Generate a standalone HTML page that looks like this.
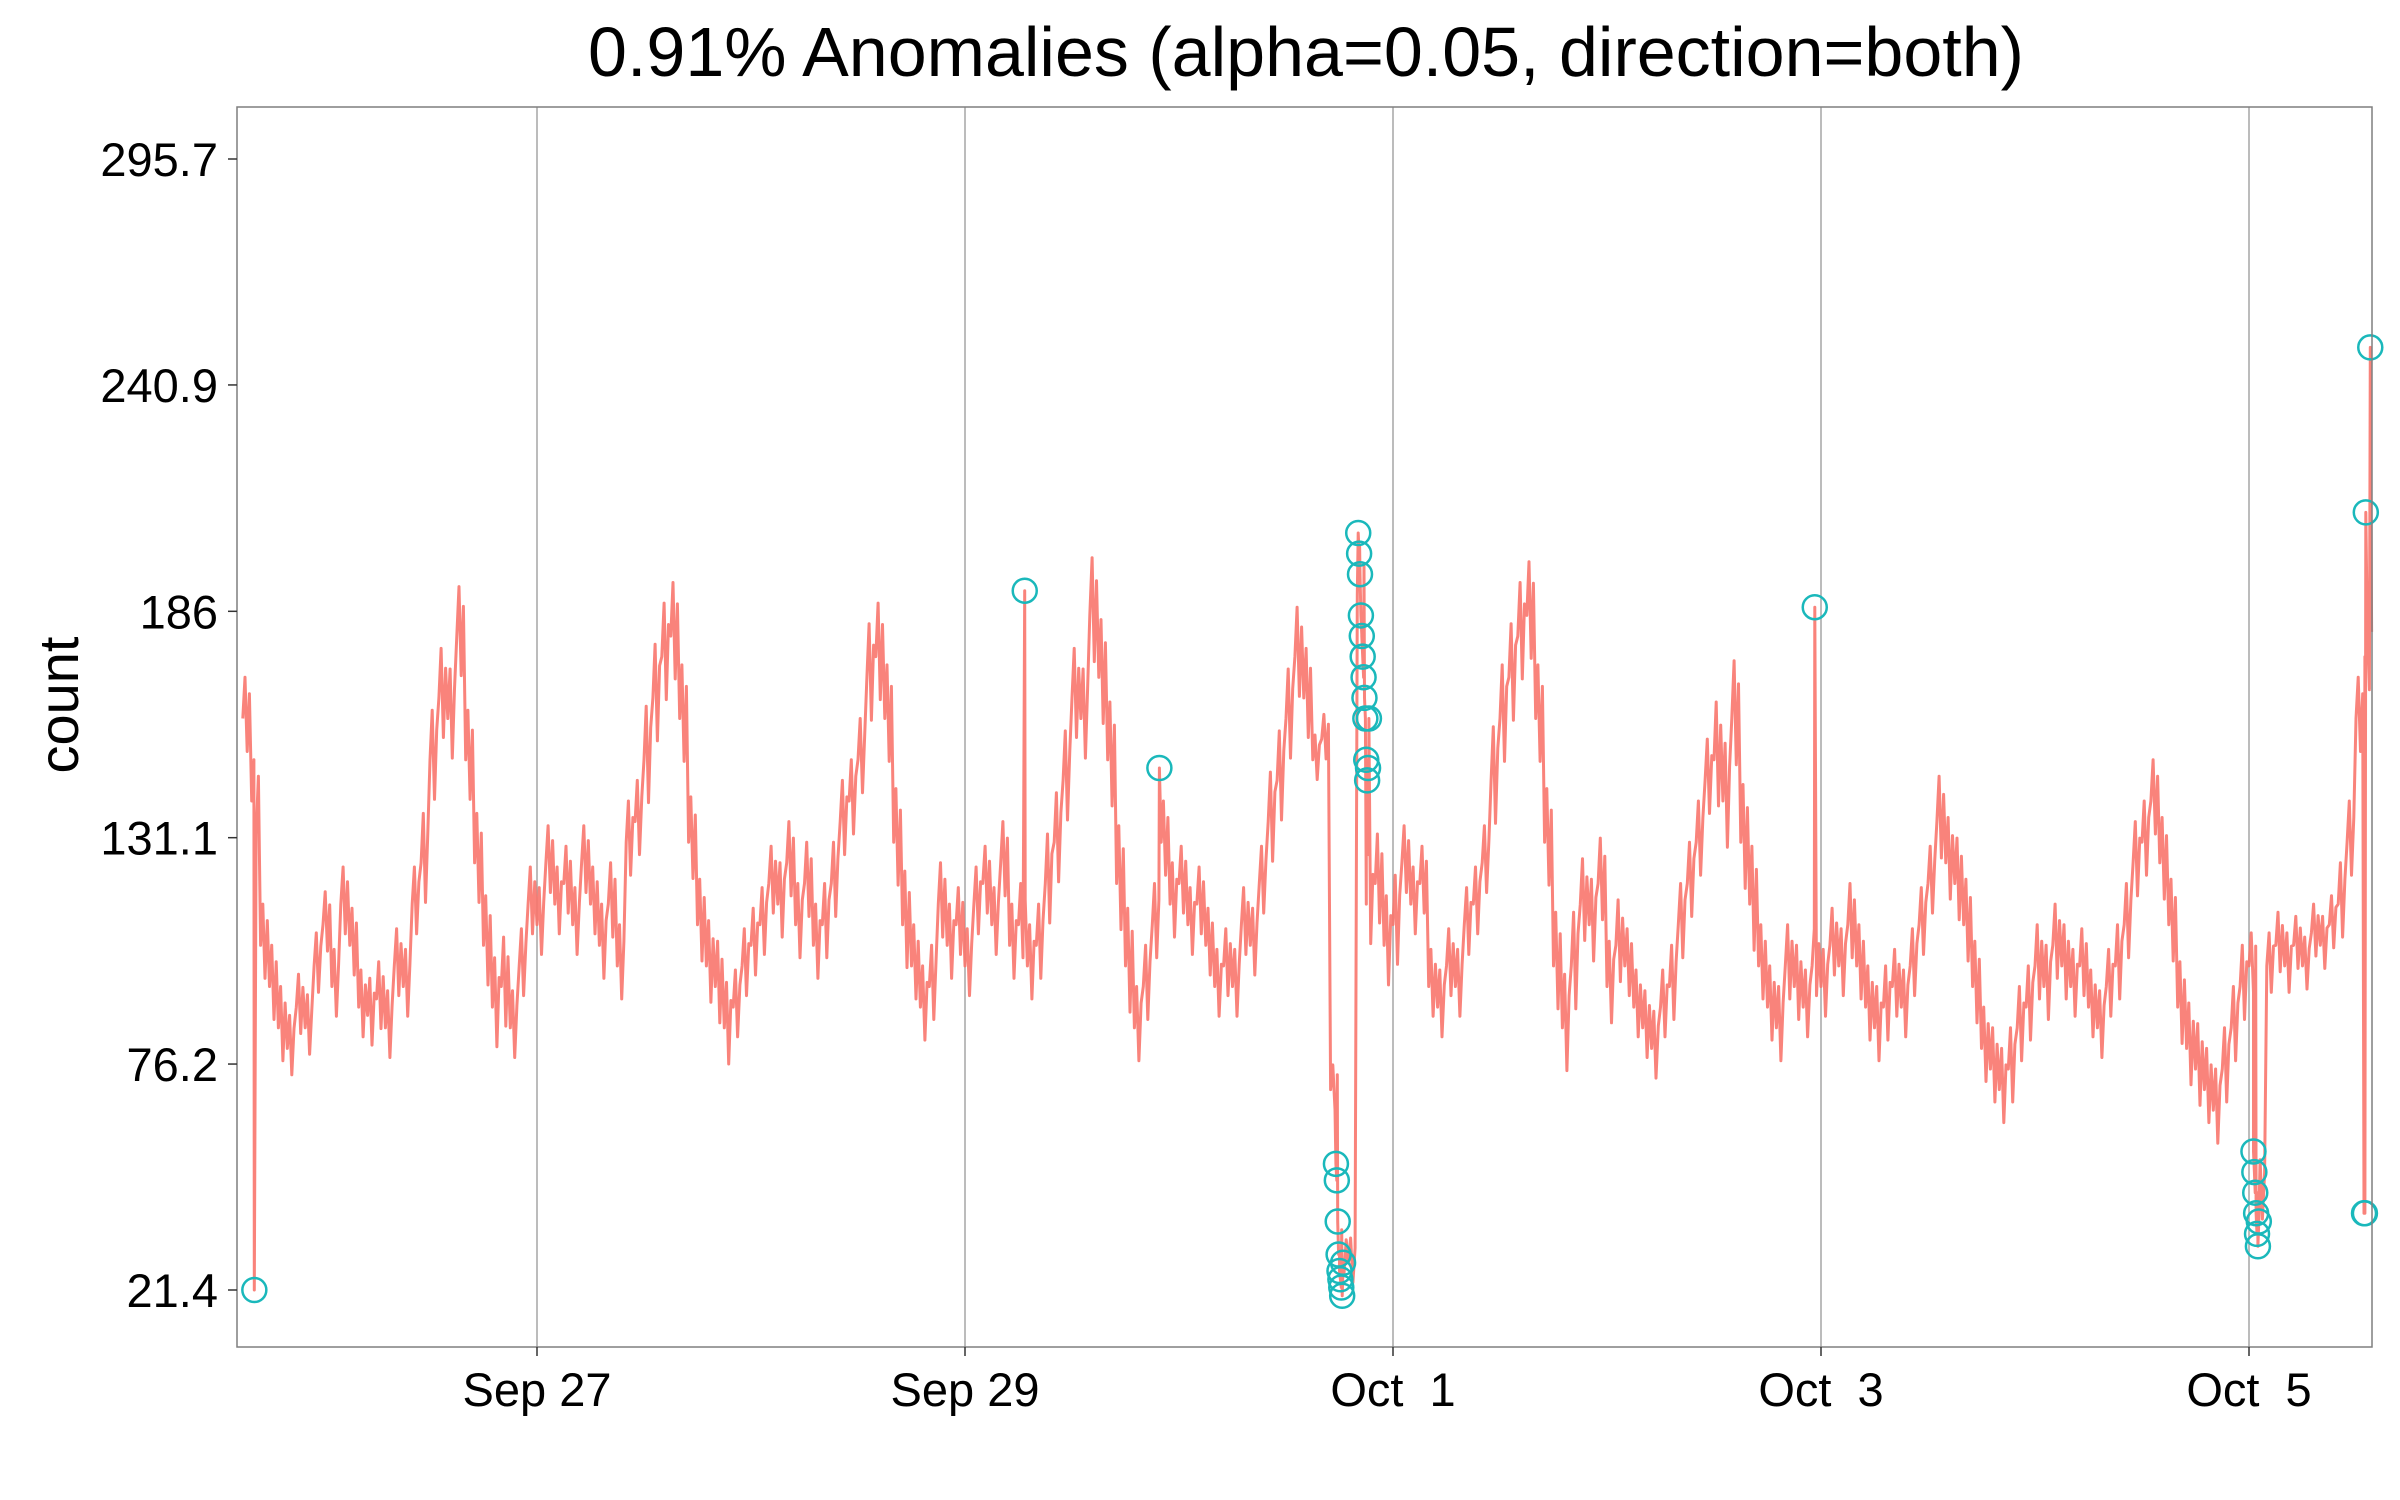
<!DOCTYPE html>
<html><head><meta charset="utf-8">
<style>
html,body{margin:0;padding:0;background:#fff;}
svg{display:block;font-family:"Liberation Sans",Arial,sans-serif;}
</style></head>
<body>
<svg id="chart" width="2400" height="1500" viewBox="0 0 2400 1500" xmlns="http://www.w3.org/2000/svg">
<rect width="2400" height="1500" fill="#fff"/>
<text x="1306" y="76" font-size="70" text-anchor="middle" fill="#000">0.91% Anomalies (alpha=0.05, direction=both)</text>
<text transform="translate(78,705) rotate(-90)" font-size="56" text-anchor="middle" fill="#000">count</text>
<g id="grid"></g>
<g id="series"></g>
<g id="anoms"></g>
<rect x="237" y="107" width="2135" height="1240" fill="none" stroke="#7f7f7f" stroke-width="1.5"/>
<g id="axes"></g>
</svg>
<script>
// hourly values starting at hour 15 (hours since Sep 25 00:00)
const startHour = 15;
const values = [
160,140,105,95,85, 80,90,85,100,110, 95,115,105,90,88, 92,85,100,95,115,
125,150,165,160,180, 150,125,105,90,95, 85,100,115,110,125, 115,120,110,125,115,
105,115,100,130,135, 150,165,175,180,160, 130,110,100,95,85, 90,100,105,110,120,
115,125,110,120,105, 110,120,135,140,150, 170,175,160,130,110, 100,90,95,115,105,
110,100,115,120,110, 125,105,110,100,105, 120,130,145,165,160, 185,170,150,120,100,
85,95,110,130,115, 120,110,115,105,95, 100,95,110,105,120, 135,145,160,175,165,
150,155,70,30,28, 190,115,120,105,110, 125,115,120,95,90, 100,95,110,115,125,
145,160,170,180,185, 160,130,100,85,100, 115,110,120,95,105, 100,90,85,80,90,
95,110,120,130,145, 150,140,160,130,115, 100,90,85,100,95, 90,100,95,105,100,
110,100,90,85,90, 95,90,100,110,120, 135,125,120,110,95, 80,75,70,75,85,
90,100,95,105,100, 95,100,90,85,95, 100,110,125,130,140, 125,110,90,80,75,
70,65,75,85,95, 100,45,100,105,100, 105,100,108,105,110, 115,130,160,175
];
// within-hour noise half-range, one per 5-hour group
const spread = [10,8,9,9,12,12,9,9,10,13,11,9,10,10,13,10,9,10,12,14,10,9,9,12,6,12,9,9,13,13,11,9,10,14,10,9,10,9,11,10,10,9,10,11,10,8,7,10];
const anomHours = [16.3,102.7,117.8,
137.6,137.7,137.8,137.9,138.0,138.1,138.2,138.3,138.4,
140.1,140.2,140.3,140.4,140.5,140.6,140.7,140.8,140.9,141.0,141.1,141.2,141.3,
191.3,
240.5,240.6,240.7,240.8,240.9,241.0,241.1,
252.9,253.0,253.1,253.6];
const anomValues = [21.4,191,148,
52,48,38,30,26,24,22,20,28,
205,200,195,185,180,175,170,165,160,150,145,148,160,
187,
55,50,45,40,35,32,38,
40,40,210,250];
const yTicks = [21.4,76.2,131.1,186,240.9,295.7];
const xTickHours = [48,96,144,192,240];
const xTickLabels = ["Sep 27","Sep 29","Oct  1","Oct  3","Oct  5"];

const X = h => 537 + (h-48)*214/24;
const Y = v => 1290 - (v-21.4)*(1290-159)/(295.7-21.4);
const NS = "http://www.w3.org/2000/svg";

const grid = document.getElementById('grid');
xTickHours.forEach((h,i)=>{
  const l = document.createElementNS(NS,'line');
  l.setAttribute('x1',X(h)); l.setAttribute('x2',X(h));
  l.setAttribute('y1',107); l.setAttribute('y2',1347);
  l.setAttribute('stroke','#a6a6a6'); l.setAttribute('stroke-width','1.5');
  
  
  grid.appendChild(l);
});

const pts = [];
values.forEach((v,i)=>{
  const t = startHour+i;
  const s = spread[Math.floor(i/5)] || 10;
  pts.push([t,v]);
  pts.push([t+0.25,v+s]);
  pts.push([t+0.5,v-s*0.8]);
  pts.push([t+0.75,v+s*0.6]);
});
anomHours.forEach((h,i)=>pts.push([h,anomValues[i]]));
pts.sort((a,b)=>a[0]-b[0]);
const path = document.createElementNS(NS,'path');
path.setAttribute('d', pts.map((p,i)=>(i?'L':'M')+X(p[0]).toFixed(1)+','+Y(p[1]).toFixed(1)).join(''));
path.setAttribute('fill','none'); path.setAttribute('stroke','#F8766D');
path.setAttribute('stroke-width','3'); path.setAttribute('stroke-opacity','0.9');
path.setAttribute('stroke-linejoin','round');


document.getElementById('series').appendChild(path);

const ag = document.getElementById('anoms');
anomHours.forEach((h,i)=>{
  const c = document.createElementNS(NS,'circle');
  c.setAttribute('cx',X(h)); c.setAttribute('cy',Y(anomValues[i]));
  c.setAttribute('r',12); c.setAttribute('fill','none');
  c.setAttribute('stroke','#1AB8BB'); c.setAttribute('stroke-width','2.5');
  
  
  ag.appendChild(c);
});

const ax = document.getElementById('axes');
yTicks.forEach(v=>{
  const t = document.createElementNS(NS,'line');
  t.setAttribute('x1',228); t.setAttribute('x2',237);
  t.setAttribute('y1',Y(v)); t.setAttribute('y2',Y(v));
  t.setAttribute('stroke','#333'); t.setAttribute('stroke-width','1.5');
  
  
  ax.appendChild(t);
  const s = document.createElementNS(NS,'text');
  s.setAttribute('x',218); s.setAttribute('y',Y(v)+17);
  s.setAttribute('text-anchor','end'); s.setAttribute('font-size','47');
  s.setAttribute('fill','#000');
  s.textContent = v;
  
  
  ax.appendChild(s);
});
xTickHours.forEach((h,i)=>{
  const t = document.createElementNS(NS,'line');
  t.setAttribute('x1',X(h)); t.setAttribute('x2',X(h));
  t.setAttribute('y1',1347); t.setAttribute('y2',1356);
  t.setAttribute('stroke','#333'); t.setAttribute('stroke-width','1.5');
  
  
  ax.appendChild(t);
  const s = document.createElementNS(NS,'text');
  s.setAttribute('x',X(h)); s.setAttribute('y',1406);
  s.setAttribute('text-anchor','middle'); s.setAttribute('font-size','47');
  s.setAttribute('fill','#000'); s.setAttribute('xml:space','preserve');
  s.style.whiteSpace='pre';
  s.textContent = xTickLabels[i];
  
  
  ax.appendChild(s);
});
</script>
</body></html>
